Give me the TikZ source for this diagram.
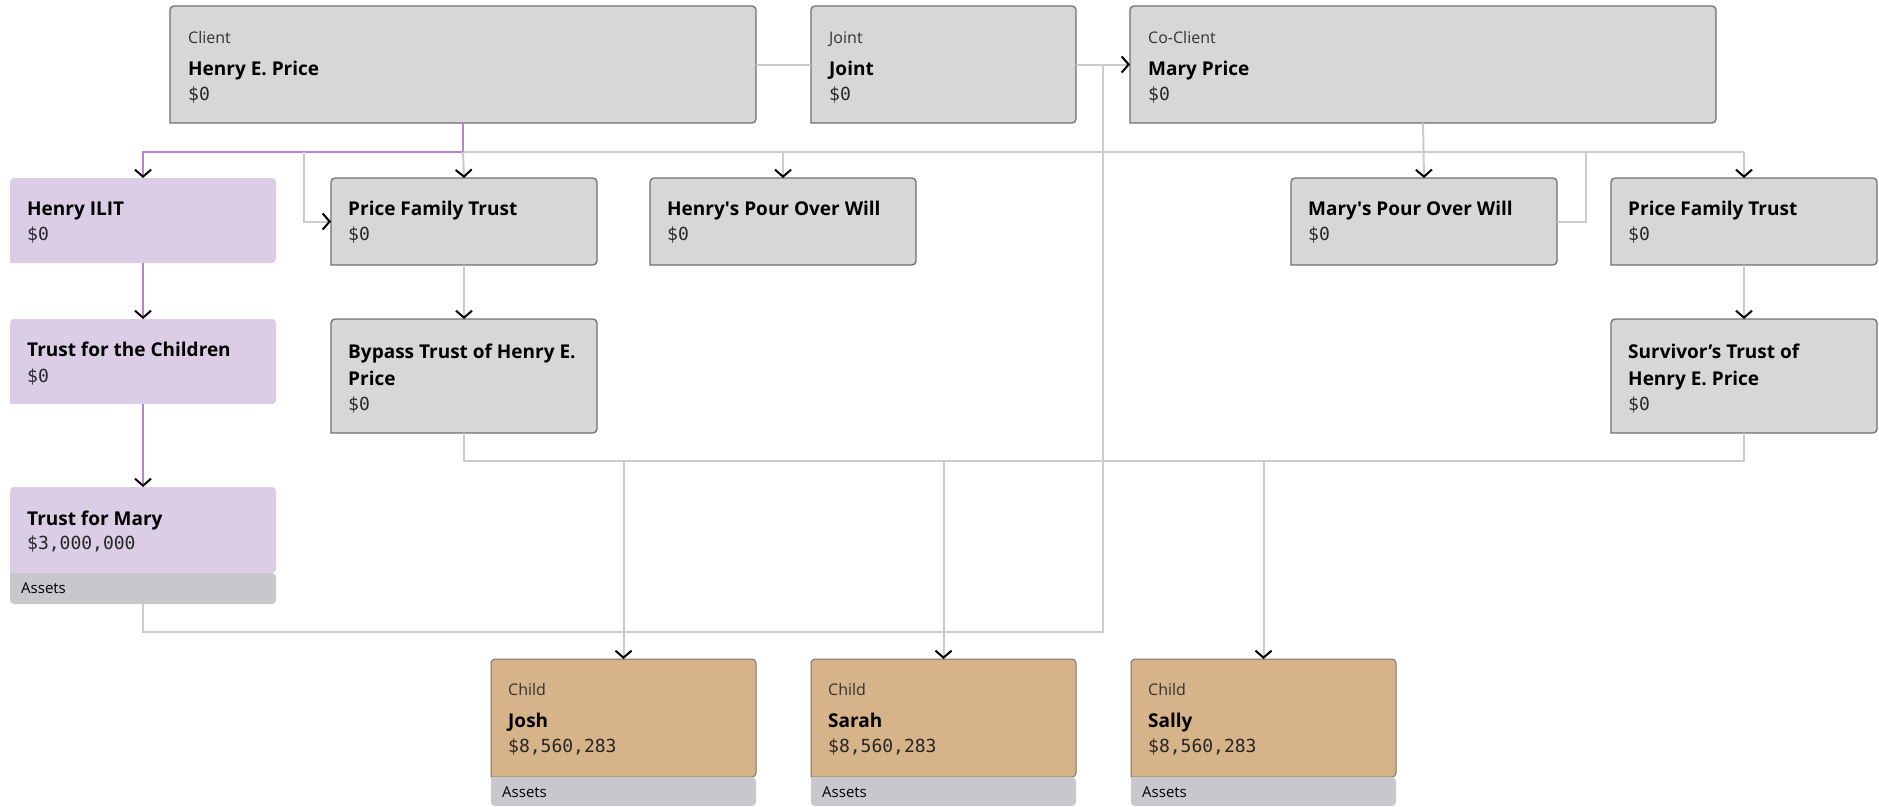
\documentclass[tikz,border=0pt]{standalone}
\usepackage{fontspec}
\setmainfont{Open Sans}
\setmonofont{DejaVu Sans Mono}
\usetikzlibrary{arrows.meta,calc}

\definecolor{cardgray}{HTML}{D7D7D7}
\definecolor{cardedge}{HTML}{717171}
\definecolor{lilac}{HTML}{DCCDE6}
\definecolor{tan}{HTML}{D6B388}
\definecolor{tanedge}{HTML}{7C7468}
\definecolor{footgray}{HTML}{C8C7CC}
\definecolor{linkgray}{HTML}{CBCBCB}
\definecolor{linkpurple}{HTML}{B883D0}
\definecolor{labeltext}{HTML}{333333}

% rounded top, square bottom (#3 = part left free at the bottom)
\newcommand{\cardtop}[3]{\path[#2] ($(#1.south west)+(0,-#3)$) [rounded corners=4pt] -- (#1.north west) -- (#1.north east) -- ($(#1.south east)+(0,-#3)$) [sharp corners] -- cycle;}
\newcommand{\cardfoot}[3]{\path[#2] ($(#1.south west)+(0,-#3)$) [rounded corners=4pt] -- (#1.south west) -- (#1.south east) -- ($(#1.south east)+(0,-#3)$) [sharp corners] -- cycle;}

\tikzset{
  card/.style={anchor=north west, inner sep=0pt, outer sep=0pt},
  graycard/.style={fill=cardgray, draw=cardedge, line width=1.3pt},
  lbl/.style={anchor=base west, inner sep=0pt, text=labeltext, font=\fontsize{16}{19}\selectfont},
  ttl/.style={anchor=base west, inner sep=0pt, align=left, text=black, font=\fontsize{19}{27}\selectfont\bfseries},
  amt/.style={anchor=base west, inner sep=0pt, text=black!85, font=\fontsize{18}{22}\selectfont\ttfamily},
  foot/.style={anchor=base west, inner sep=0pt, text=black, font=\fontsize{15}{18}\selectfont},
  link/.style={draw=linkgray, line width=2pt},
  plink/.style={draw=linkpurple, line width=2pt},
  tip/.style={-{Straight Barb[length=7pt,width=16pt,line width=2pt,color=black]}}
}

\begin{document}
\begin{tikzpicture}[x=1pt,y=-1pt]
	\path[fill=white,use as bounding box] (0,0) rectangle (1879,806);

	% boxes
	\node[card, minimum width=586, minimum height=117] (client) at (170,6) {};
	\node[card, minimum width=265, minimum height=117] (joint) at (811,6) {};
	\node[card, minimum width=586, minimum height=117] (mary) at (1130,6) {};
	\node[card, minimum width=266, minimum height=85] (ilit) at (10,178) {};
	\node[card, minimum width=266, minimum height=87] (pftL) at (331,178) {};
	\node[card, minimum width=266, minimum height=87] (hpow) at (650,178) {};
	\node[card, minimum width=266, minimum height=87] (mpow) at (1291,178) {};
	\node[card, minimum width=266, minimum height=87] (pftR) at (1611,178) {};
	\node[card, minimum width=266, minimum height=85] (tftc) at (10,319) {};
	\node[card, minimum width=266, minimum height=114] (bypass) at (331,319) {};
	\node[card, minimum width=266, minimum height=114] (surv) at (1611,319) {};
	\node[card, minimum width=266, minimum height=117] (tfm) at (10,487) {};
	\node[card, minimum width=265, minimum height=147] (josh) at (491,659) {};
	\node[card, minimum width=265, minimum height=147] (sarah) at (811,659) {};
	\node[card, minimum width=265, minimum height=147] (sally) at (1131,659) {};

	\foreach \n in {client,joint,mary,pftL,hpow,mpow,pftR,bypass,surv}
		\cardtop{\n}{graycard}{0};
	\cardtop{ilit}{fill=lilac}{0}
	\cardtop{tftc}{fill=lilac}{0}
	\cardtop{tfm}{fill=lilac}{31}
	\cardfoot{tfm}{fill=footgray}{31}
	\foreach \n in {josh,sarah,sally}{
		\cardtop{\n}{fill=tan, draw=tanedge, line width=1pt}{29}
		\cardfoot{\n}{fill=footgray}{29}
	}

	% connectors
	\coordinate (bus) at ($(client.south)+(0,29)$);
	\coordinate (jL) at (304,152);
	\coordinate (jR) at (1586,152);
	\coordinate (jv) at ($(joint.east)!0.5!(mary.west)$);
	\coordinate (bus2) at ($(bypass.south)+(0,28)$);
	\draw[link] (client.east) -- (joint.west);
	\draw[link,tip] (joint.east) -- (mary.west);
	\draw[link] (bus) -- (bus -| pftR.north);
	\draw[plink,tip] (client.south) -- (bus) -| (ilit.north);
	\draw[link,tip] (bus) -- (pftL.north);
	\draw[link,tip] (bus -| hpow.north) -- (hpow.north);
	\draw[link,tip] (bus -| pftR.north) -- (pftR.north);
	\draw[link,tip] (mary.south) -- (mpow.north);
	\draw[link,tip] (jL) |- (pftL.west);
	\draw[link] (jR) |- (mpow.east);
	\draw[plink,tip] (ilit.south) -- (tftc.north);
	\draw[plink,tip] (tftc.south) -- (tfm.north);
	\draw[link,tip] (pftL.south) -- (bypass.north);
	\draw[link,tip] (pftR.south) -- (surv.north);
	\draw[link] (bypass.south) -- (bus2) -| (surv.south);
	\draw[link] (tfm.south) -- ++(0,28) -| (jv);
	\foreach \c in {josh,sarah,sally}
		\draw[link,tip] (bus2 -| \c.north) -- (\c.north);

	% texts
	\node[lbl] (client-l) at (188,43) {Client};
	\node[ttl] (client-t) at (188,75) {Henry E. Price};
	\node[amt] (client-a) at (188,100) {\$0};
	\node[lbl] (joint-l) at (829,43) {Joint};
	\node[ttl] (joint-t) at (829,75) {Joint};
	\node[amt] (joint-a) at (829,100) {\$0};
	\node[lbl] (mary-l) at (1148,43) {Co-Client};
	\node[ttl] (mary-t) at (1148,75) {Mary Price};
	\node[amt] (mary-a) at (1148,100) {\$0};

	\node[ttl] (ilit-t) at (27,215) {Henry ILIT};
	\node[amt] (ilit-a) at (27,240) {\$0};
	\node[ttl] (pftL-t) at (348,215) {Price Family Trust};
	\node[amt] (pftL-a) at (348,240) {\$0};
	\node[ttl] (hpow-t) at (667,215) {Henry\textquotesingle s Pour Over Will};
	\node[amt] (hpow-a) at (667,240) {\$0};
	\node[ttl] (mpow-t) at (1308,215) {Mary\textquotesingle s Pour Over Will};
	\node[amt] (mpow-a) at (1308,240) {\$0};
	\node[ttl] (pftR-t) at (1628,215) {Price Family Trust};
	\node[amt] (pftR-a) at (1628,240) {\$0};

	\node[ttl] (tftc-t) at (27,356) {Trust for the Children};
	\node[amt] (tftc-a) at (27,382) {\$0};
	% two-line titles: base is the last line
	\node[ttl] (bypass-t) at (348,385) {Bypass Trust of Henry E.\\Price};
	\node[amt] (bypass-a) at (348,410) {\$0};
	\node[ttl] (surv-t) at (1628,385) {Survivor’s Trust of\\Henry E. Price};
	\node[amt] (surv-a) at (1628,410) {\$0};

	\node[ttl] (tfm-t) at (27,525) {Trust for Mary};
	\node[amt] (tfm-a) at (27,549) {\$3,000,000};
	\node[foot] (tfm-f) at (21,593) {Assets};

	\node[lbl] (josh-l) at (508,695) {Child};
	\node[ttl] (josh-t) at (508,727) {Josh};
	\node[amt] (josh-a) at (508,752) {\$8,560,283};
	\node[foot] (josh-f) at (502,797) {Assets};
	\node[lbl] (sarah-l) at (828,695) {Child};
	\node[ttl] (sarah-t) at (828,727) {Sarah};
	\node[amt] (sarah-a) at (828,752) {\$8,560,283};
	\node[foot] (sarah-f) at (822,797) {Assets};
	\node[lbl] (sally-l) at (1148,695) {Child};
	\node[ttl] (sally-t) at (1148,727) {Sally};
	\node[amt] (sally-a) at (1148,752) {\$8,560,283};
	\node[foot] (sally-f) at (1142,797) {Assets};

\end{tikzpicture}
\end{document}
